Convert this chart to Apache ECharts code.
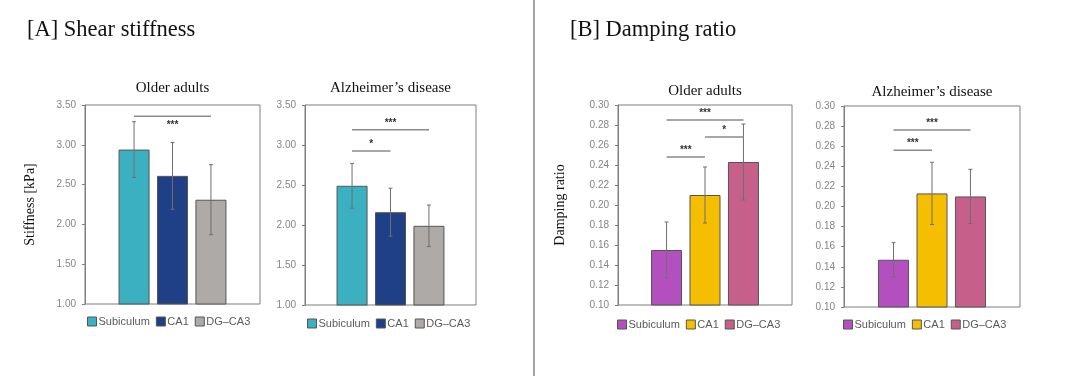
<!DOCTYPE html>
<html>
<head>
<meta charset="utf-8">
<script src="https://cdn.jsdelivr.net/npm/echarts@6/dist/echarts.min.js"></script>
<style>
  html, body { margin: 0; padding: 0; background: #fff; }
  #main { width: 1066px; height: 377px; }
</style>
</head>
<body>
<div id="main"></div>
<script>
// regions shown in every panel
var regions = ['Subiculum', 'CA1', 'DG\u2013CA3'];

// [A] shear stiffness (kPa), mean and error
var stiffOlder = [2.94, 2.61, 2.31];
var stiffOlderErr = [0.35, 0.42, 0.44];
var stiffAD = [2.49, 2.16, 1.99];
var stiffADErr = [0.28, 0.30, 0.26];

// [B] damping ratio, mean and error
var dampOlder = [0.155, 0.210, 0.243];
var dampOlderErr = [0.028, 0.028, 0.038];
var dampAD = [0.147, 0.213, 0.210];
var dampADErr = [0.017, 0.031, 0.027];

// significance brackets: [from bar, to bar, level, stars]
var sigStiffOlder = [[0, 2, 3.36, '***']];
var sigStiffAD = [[0, 2, 3.19, '***'], [0, 1, 2.925, '*']];
var sigDampOlder = [[0, 2, 0.285, '***'], [1, 2, 0.268, '*'], [0, 1, 0.248, '***']];
var sigDampAD = [[0, 2, 0.276, '***'], [0, 1, 0.256, '***']];

// axis ticks
var stiffTicks = { min: 1.0, max: 3.5, interval: 0.5 };
var dampTicks = { min: 0.10, max: 0.30, interval: 0.02 };

var colorsA = ['#3bb0c1', '#1f3f87', '#aeaaa8'];
var colorsB = ['#b34fbf', '#f5be00', '#c6608b'];

var serif = '"Liberation Serif", "DejaVu Serif", serif';
var sans = '"Liberation Sans", Arial, sans-serif';

var BAR_W = 31, BAR_GAP = 0.24;
var step = BAR_W * (1 + BAR_GAP);

var panels = [
    { title: 'Older adults', vals: stiffOlder, errs: stiffOlderErr, sig: sigStiffOlder, ticks: stiffTicks, dec: 2,
      colors: colorsA, grid: { left: 85, top: 105, width: 175, height: 199 }, titleY: 88,
      yName: 'Stiffness [kPa]', nameGap: 48, starsBelow: true, legend: { left: 82, top: 311 } },
    { title: 'Alzheimer\u2019s disease', vals: stiffAD, errs: stiffADErr, sig: sigStiffAD, ticks: stiffTicks, dec: 2,
      colors: colorsA, grid: { left: 305, top: 105, width: 171, height: 200 }, titleY: 88,
      legend: { left: 302, top: 313 } },
    { title: 'Older adults', vals: dampOlder, errs: dampOlderErr, sig: sigDampOlder, ticks: dampTicks, dec: 2,
      colors: colorsB, grid: { left: 618, top: 105, width: 174, height: 200 }, titleY: 91,
      yName: 'Damping ratio', nameGap: 51, legend: { left: 612, top: 314 } },
    { title: 'Alzheimer\u2019s disease', vals: dampAD, errs: dampADErr, sig: sigDampAD, ticks: dampTicks, dec: 2,
      colors: colorsB, grid: { left: 844, top: 106, width: 176, height: 201 }, titleY: 92,
      legend: { left: 838, top: 314 } }
];

var grids = [], xAxes = [], yAxes = [], legends = [], series = [];
var graphics = [
    { type: 'line', shape: { x1: 534, y1: 0, x2: 534, y2: 376 }, style: { stroke: '#a3a3a3', lineWidth: 2 } },
    { type: 'text', left: 27, top: 19, style: { text: '[A] Shear stiffness', font: '22.5px ' + serif, fill: '#111' } },
    { type: 'text', left: 570, top: 19, style: { text: '[B] Damping ratio', font: '22.5px ' + serif, fill: '#111' } }
];

panels.forEach(function (p, k) {
    var g = p.grid;
    grids.push({ left: g.left, top: g.top, width: g.width, height: g.height, show: true,
        borderColor: '#7f7f7f', borderWidth: 1, backgroundColor: 'transparent' });
    xAxes.push({ type: 'category', gridIndex: k, data: ['all'],
        axisLine: { show: false }, axisTick: { show: false }, axisLabel: { show: false } });
    yAxes.push({
        type: 'value', gridIndex: k, min: p.ticks.min, max: p.ticks.max, interval: p.ticks.interval,
        name: p.yName || '', nameLocation: 'middle', nameGap: p.nameGap || 0,
        nameTextStyle: { fontFamily: serif, fontSize: 14, color: '#111' },
        splitLine: { show: false },
        axisLine: { show: true, lineStyle: { color: '#7f7f7f' } },
        axisTick: { show: true, length: 3, lineStyle: { color: '#7f7f7f' } },
        axisLabel: { fontFamily: sans, fontSize: 10, color: '#858585', margin: 9,
            formatter: function (v) { return v.toFixed(p.dec); } }
    });
    graphics.push({ type: 'text', x: g.left + g.width / 2, y: p.titleY,
        style: { text: p.title, font: '15px ' + serif, fill: '#111', textAlign: 'center', textVerticalAlign: 'middle' } });

    legends.push({
        left: p.legend.left, top: p.legend.top, icon: 'rect', itemWidth: 9, itemHeight: 9, itemGap: 6,
        textStyle: { fontFamily: sans, fontSize: 11, color: '#5a5a5a', padding: [0, 0, 0, -3] },
        data: regions.map(function (r, i) {
            return { name: r, itemStyle: { color: p.colors[i], borderColor: '#555', borderWidth: 1 } };
        })
    });

    regions.forEach(function (r, i) {
        series.push({
            type: 'bar', name: r, xAxisIndex: k, yAxisIndex: k,
            barWidth: BAR_W, barGap: (BAR_GAP * 100) + '%',
            itemStyle: { color: p.colors[i], borderColor: '#555', borderWidth: 1 },
            data: [p.vals[i]]
        });
    });

    // error bars
    series.push({
        type: 'custom', xAxisIndex: k, yAxisIndex: k, z: 5, silent: true,
        data: p.vals.map(function (v, i) { return [0, v, p.errs[i], i]; }),
        encode: { x: 0, y: 1 },
        renderItem: function (params, api) {
            var v = api.value(1), e = api.value(2), i = api.value(3);
            var hi = api.coord([0, v + e]), lo = api.coord([0, v - e]);
            var x = hi[0] + (i - 1) * step;
            var st = { stroke: '#6f6f6f', lineWidth: 1 };
            return { type: 'group', children: [
                { type: 'line', shape: { x1: x, y1: hi[1], x2: x, y2: lo[1] }, style: st },
                { type: 'line', shape: { x1: x - 2, y1: hi[1], x2: x + 2, y2: hi[1] }, style: st },
                { type: 'line', shape: { x1: x - 2, y1: lo[1], x2: x + 2, y2: lo[1] }, style: st }
            ] };
        }
    });

    // significance brackets
    series.push({
        type: 'custom', xAxisIndex: k, yAxisIndex: k, z: 6, silent: true,
        data: p.sig.map(function (s) { return [0, s[2], s[0], s[1]]; }),
        encode: { x: 0, y: 1 },
        renderItem: function (params, api) {
            var c = api.coord([0, api.value(1)]);
            var x1 = c[0] + (api.value(2) - 1) * step;
            var x2 = c[0] + (api.value(3) - 1) * step;
            var stars = p.sig[params.dataIndex][3];
            return { type: 'group', children: [
                { type: 'line', shape: { x1: x1, y1: c[1], x2: x2, y2: c[1] },
                  style: { stroke: '#8a8a8a', lineWidth: 1.5 } },
                { type: 'text', x: (x1 + x2) / 2, y: p.starsBelow ? c[1] + 9 : c[1] - 7,
                  style: { text: stars, font: 'bold 10px ' + sans, fill: '#333',
                           textAlign: 'center', textVerticalAlign: 'middle' } }
            ] };
        }
    });
});

var chart = echarts.init(document.getElementById('main'));
chart.setOption({
    animation: false,
    grid: grids,
    xAxis: xAxes,
    yAxis: yAxes,
    legend: legends,
    graphic: graphics,
    series: series
});
</script>
</body>
</html>
